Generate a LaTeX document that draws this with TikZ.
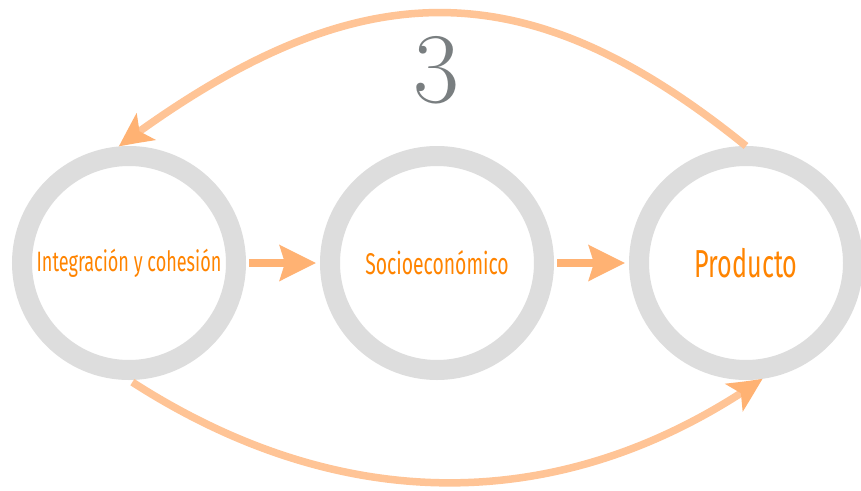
\documentclass[tikz,border=0pt]{standalone}
\usepackage{fontspec}
\newfontfamily\condfont[FakeStretch=0.645]{Fira Sans}
\usetikzlibrary{arrows.meta,bending}

\definecolor{ringgray}{RGB}{221,221,221}
\definecolor{txtorange}{RGB}{255,132,0}
\definecolor{arcorange}{RGB}{255,196,150}
\definecolor{headorange}{RGB}{255,178,115}
\definecolor{numgray}{RGB}{121,126,128}

\begin{document}
\begin{tikzpicture}[x=1pt,y=-1pt,
  ring/.style={circle,draw=ringgray,line width=20pt,minimum size=214pt,inner sep=0pt,
    text=txtorange,font=\condfont\fontsize{28}{28}\selectfont},
  flow/.style={draw=headorange,line width=8pt,-{Stealth[length=36pt,width=35pt,inset=5pt]}},
  backarc/.style={draw=arcorange,line width=7.5pt,
    -{Stealth[length=34pt,width=32pt,inset=8pt,bend,color=headorange]}}]
\useasboundingbox[fill=white] (0,0) rectangle (861,490);
% the three stages
\node[ring] (integ) at (129,263) {Integración y cohesión};
\node[ring,font=\condfont\fontsize{30}{30}\selectfont] (socio) at (437,263) {Socioeconómico};
\node[ring,font=\condfont\fontsize{39}{39}\selectfont] (prod) at (746,263) {Producto};
\node[text=numgray,font=\fontsize{100}{100}\selectfont] (num) at (436,70) {3};
% straight arrows
\draw[flow,shorten <=3pt,shorten >=4pt] (integ) -- (socio);
\draw[flow,shorten <=3pt,shorten >=4pt] (socio) -- (prod);
% arcs
\draw[backarc] (prod.north) .. controls (526,-32) and (358,-32) .. (integ.95);
\draw[backarc,shorten <=4pt] (integ.south) .. controls (342,517) and (564,517) .. (prod.-82);
\end{tikzpicture}
\end{document}
